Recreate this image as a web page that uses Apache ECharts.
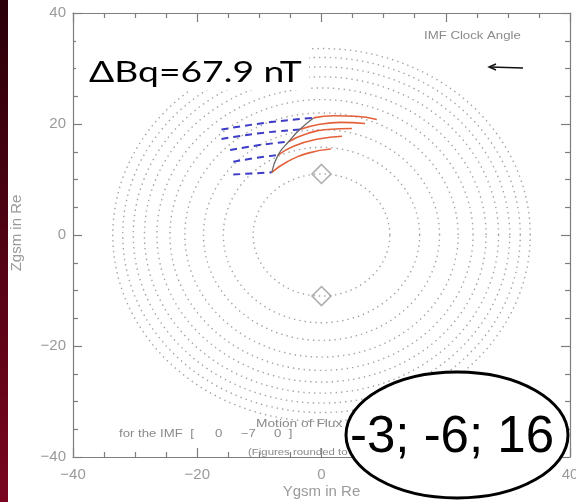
<!DOCTYPE html>
<html>
<head>
<meta charset="utf-8">
<script src="https://cdn.jsdelivr.net/npm/echarts@6.0.0/dist/echarts.min.js"></script>
<style>
  html, body { margin: 0; padding: 0; background: #fff; }
  #main, #overlay { width: 576px; height: 502px; position: absolute; left: 0; top: 0; }
  #overlay { pointer-events: none; }
</style>
</head>
<body>
<div id="main"></div>
<div id="overlay"></div>
<script>
// ring radii (Re) of the dotted magnetopause cuts
const ringRadii = [11, 15.8, 19, 22, 24.4, 26.5, 28.5, 30.3, 32, 33.6];

// blue dashed (draped field, upstream side)
const blueLines = [
    [[-16.1, 19.0], [-8.5, 20.3], [-1.3, 21.1]],
    [[-16.1, 17.3], [-9.5, 18.4], [-3.5, 19.0]],
    [[-14.7, 15.3], [-10, 16.2], [-5.3, 16.8]],
    [[-14.2, 13.2], [-10.5, 13.9], [-7.0, 14.4]],
    [[-14.2, 10.9], [-11, 11.1], [-8.0, 11.3]]
];

// red solid (reconnected flux tubes)
const redLines = [
    [[-1.3, 21.1], [2, 21.5], [5.5, 21.4], [8.9, 20.8]],
    [[-3.5, 19.0], [-0.5, 19.9], [3, 20.3], [7.0, 20.1]],
    [[-5.3, 16.8], [-2.5, 18.2], [1, 19.0], [4.9, 19.2]],
    [[-7.0, 14.4], [-4.5, 16.0], [-0.5, 17.3], [3.3, 17.8]],
    [[-8.0, 11.3], [-5.5, 13.2], [-2, 14.8], [1.5, 15.5]]
];

// x-line (gray arc through the junctions)
const xLine = [[-8.0, 11.3], [-7.0, 14.4], [-5.3, 16.8], [-3.5, 19.0], [-1.3, 21.1]];

// cusp markers
const cusps = [[0, 11], [0, -11]];

function ring(r) {
    const pts = [];
    for (let a = 0; a <= 360; a += 2) {
        const t = a * Math.PI / 180;
        pts.push([r * Math.cos(t), r * Math.sin(t)]);
    }
    return pts;
}

const minus = function (v) { return String(v).replace('-', '\u2212'); };
const axisGray = '#7e7e7e';
const labelGray = '#9a9a9a';
const hershey = '"Liberation Sans"';

function axisBase(extra) {
    return Object.assign({
        type: 'value',
        min: -40,
        max: 40,
        interval: 20,
        axisLine: { show: true, onZero: false, lineStyle: { color: axisGray, width: 1.2 } },
        axisTick: { show: true, inside: true, length: 9, lineStyle: { color: axisGray, width: 1.2 } },
        minorTick: { show: true, splitNumber: 4, length: 5, lineStyle: { color: axisGray, width: 1.2 } },
        splitLine: { show: false },
        axisLabel: { show: false }
    }, extra);
}

/* plot: axes + marks */
const chart = echarts.init(document.getElementById('main'));
const series = [];
ringRadii.forEach(function (r) {
    series.push({
        type: 'line',
        data: ring(r),
        showSymbol: false,
        silent: true,
        lineStyle: { color: '#a2a2a2', width: 1.4, type: [1.4, 4] }
    });
});
blueLines.forEach(function (l) {
    series.push({
        type: 'line', data: l, smooth: true, showSymbol: false,
        lineStyle: { color: '#3c3cc8', width: 2, type: [7, 5] }
    });
});
redLines.forEach(function (l) {
    series.push({
        type: 'line', data: l, smooth: true, showSymbol: false,
        lineStyle: { color: '#e4603a', width: 1.6 }
    });
});
series.push({
    type: 'line', data: xLine, smooth: true, showSymbol: false,
    lineStyle: { color: '#6a6a6a', width: 1.3 }
});
series.push({
    type: 'scatter', data: cusps, symbol: 'diamond', symbolSize: 19,
    itemStyle: { color: 'rgba(0,0,0,0)', borderColor: '#9a9a9a', borderWidth: 1.6 }
});

const labelStyle = { show: true, color: labelGray, fontSize: 15, fontFamily: 'Liberation Sans', formatter: minus };

chart.setOption({
    animation: false,
    grid: { left: 73, right: 6, top: 13, bottom: 45, outerBoundsMode: 'none' },
    xAxis: [
        axisBase({ position: 'bottom', axisLabel: Object.assign({ margin: 10 }, labelStyle) }),
        axisBase({ position: 'top' })
    ],
    yAxis: [
        axisBase({ position: 'left', axisLabel: Object.assign({ margin: 7 }, labelStyle) }),
        axisBase({ position: 'right' })
    ],
    series: series
});

/* overlay: annotations drawn above the plot */
function label(text, x, y, size, sx) {
    return {
        type: 'text', z: 101, x: x, y: y, scaleX: sx || 1,
        style: { text: text, font: size + 'px ' + hershey, fill: '#8a8a8a', verticalAlign: 'middle' }
    };
}

const overlay = echarts.init(document.getElementById('overlay'));
overlay.setOption({
    animation: false,
    graphic: [
        {
            type: 'rect', z: 100,
            shape: { x: 0, y: 0, width: 8, height: 502 },
            style: {
                fill: new echarts.graphic.LinearGradient(0, 0, 0, 1, [
                    { offset: 0, color: '#2a0008' },
                    { offset: 1, color: '#7a0620' }
                ])
            }
        },
        {
            type: 'text', z: 101, x: 321.5, y: 492,
            style: { text: 'Ygsm in Re', font: '15px ' + hershey, fill: labelGray, align: 'center', verticalAlign: 'middle' }
        },
        {
            type: 'text', z: 101, x: 17, y: 233, rotation: Math.PI / 2,
            style: { text: 'Zgsm in Re', font: '15px ' + hershey, fill: labelGray, align: 'center', verticalAlign: 'middle' }
        },
        {
            type: 'rect', z: 100,
            shape: { x: 76, y: 40, width: 233, height: 50 },
            style: { fill: '#fff' }
        },
        {
            type: 'text', z: 101, x: 89, y: 73, scaleX: 1.33,
            style: { text: '\u0394Bq=67.9 nT', font: '28px Lato', fill: '#000', verticalAlign: 'middle' }
        },
        label('IMF Clock Angle', 424, 36, 11, 1.2),
        {
            type: 'line', z: 101,
            shape: { x1: 523, y1: 68, x2: 490, y2: 67 },
            style: { stroke: '#111', lineWidth: 1.4 }
        },
        {
            type: 'polyline', z: 101,
            shape: { points: [[496, 64], [489, 67], [496, 70]] },
            style: { stroke: '#111', lineWidth: 1.4, fill: null }
        },
        label('Motion of Flux', 256, 424, 11, 1.25),
        label('for the IMF  [', 119, 434, 11, 1.2),
        label('0     \u22127     0  ]', 215, 434, 11, 1.2),
        label('(Figures rounded to', 248, 452, 9.5, 1.2),
        {
            type: 'ellipse', z: 102,
            shape: { cx: 457, cy: 435, rx: 111, ry: 63 },
            style: { fill: '#fff', stroke: '#000', lineWidth: 3 }
        },
        {
            type: 'text', z: 103, x: 452, y: 438,
            style: { text: '-3; -6; 16', font: '51px "Liberation Sans"', fill: '#000', align: 'center', verticalAlign: 'middle' }
        }
    ]
});
</script>
</body>
</html>
